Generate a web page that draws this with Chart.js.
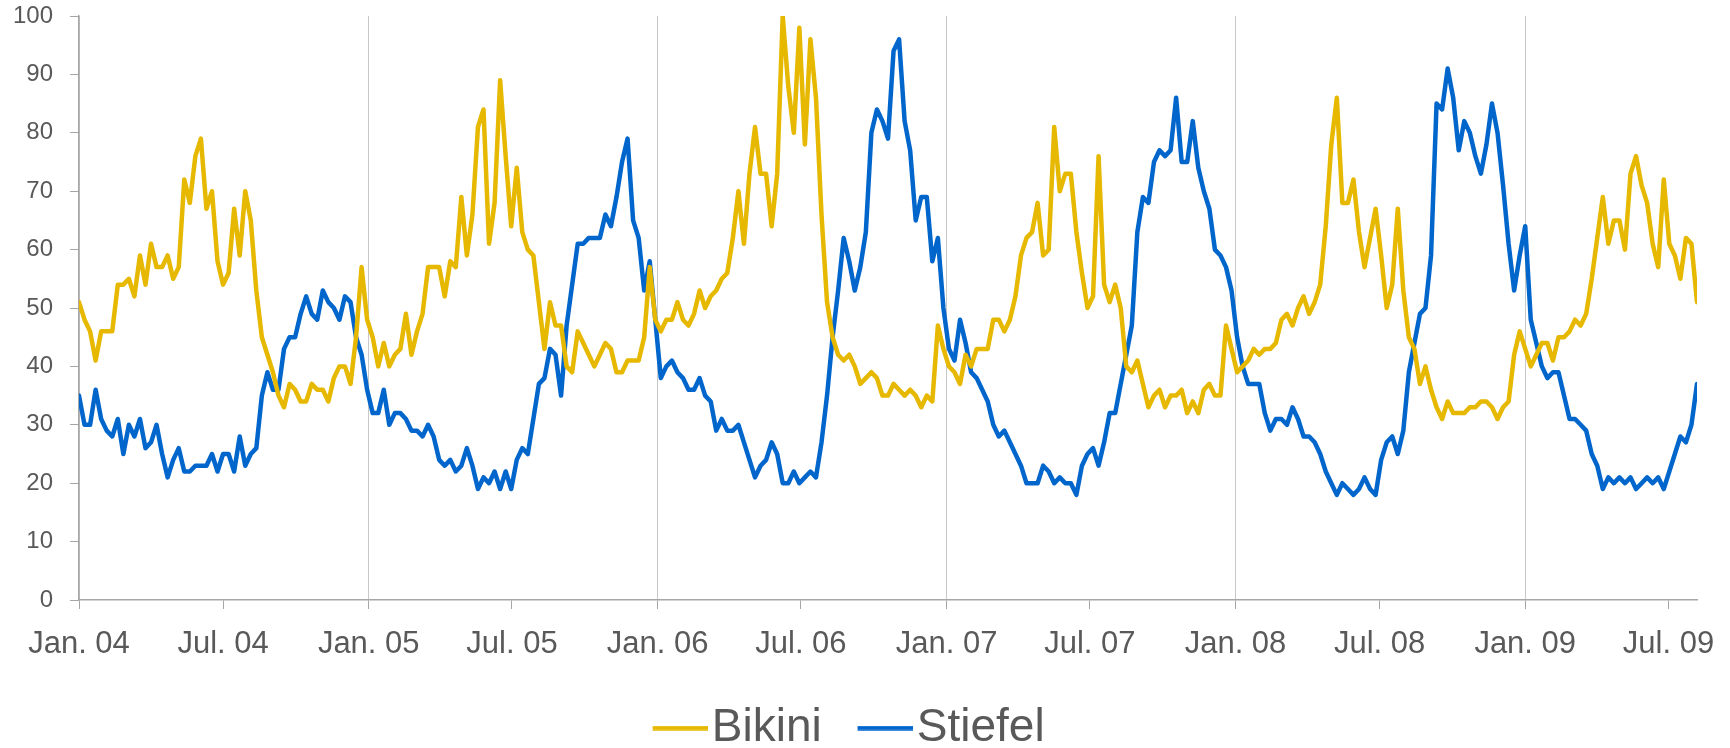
<!DOCTYPE html>
<html lang="de">
<head>
  <meta charset="UTF-8">
  <title>Bikini vs. Stiefel</title>
  <script src="https://cdn.jsdelivr.net/npm/chart.js"></script>
  <style>
    body { margin: 0; background: #fff; }
    #wrap { width: 1730px; height: 748px; }
  </style>
</head>
<body>
  <div id="wrap"><canvas id="trendChart"></canvas></div>

  <script>
    // weekly search interest, first week = Jan 2004
    const bikini = [
      51, 48, 46, 41, 46, 46, 46, 54, 54, 55,
      52, 59, 54, 61, 57, 57, 59, 55, 57, 72,
      68, 76, 79, 67, 70, 58, 54, 56, 67, 59,
      70, 65, 53, 45, 42, 39, 35, 33, 37, 36,
      34, 34, 37, 36, 36, 34, 38, 40, 40, 37,
      45, 57, 48, 45, 40, 44, 40, 42, 43, 49,
      42, 46, 49, 57, 57, 57, 52, 58, 57, 69,
      59, 66, 81, 84, 61, 68, 89, 76, 64, 74,
      63, 60, 59, 51, 43, 51, 47, 47, 40, 39,
      46, 44, 42, 40, 42, 44, 43, 39, 39, 41,
      41, 41, 45, 57, 48, 46, 48, 48, 51, 48,
      47, 49, 53, 50, 52, 53, 55, 56, 62, 70,
      61, 73, 81, 73, 73, 64, 73, 100, 88, 80,
      98, 78, 96, 86, 66, 51, 45, 42, 41, 42,
      40, 37, 38, 39, 38, 35, 35, 37, 36, 35,
      36, 35, 33, 35, 34, 47, 43, 40, 39, 37,
      42, 40, 43, 43, 43, 48, 48, 46, 48, 52,
      59, 62, 63, 68, 59, 60, 81, 70, 73, 73,
      63, 56, 50, 52, 76, 54, 51, 54, 50, 40,
      39, 41, 37, 33, 35, 36, 33, 35, 35, 36,
      32, 34, 32, 36, 37, 35, 35, 47, 43, 39,
      40, 41, 43, 42, 43, 43, 44, 48, 49, 47,
      50, 52, 49, 51, 54, 64, 78, 86, 68, 68,
      72, 63, 57, 62, 67, 59, 50, 54, 67, 53,
      45, 43, 37, 40, 36, 33, 31, 34, 32, 32,
      32, 33, 33, 34, 34, 33, 31, 33, 34, 42,
      46, 43, 40, 42, 44, 44, 41, 45, 45, 46,
      48, 47, 49, 55, 62, 69, 61, 65, 65, 60,
      73, 76, 71, 68, 61, 57, 72, 61, 59, 55,
      62, 61, 51
    ];
    const stiefel = [
      35, 30, 30, 36, 31, 29, 28, 31, 25, 30,
      28, 31, 26, 27, 30, 25, 21, 24, 26, 22,
      22, 23, 23, 23, 25, 22, 25, 25, 22, 28,
      23, 25, 26, 35, 39, 36, 36, 43, 45, 45,
      49, 52, 49, 48, 53, 51, 50, 48, 52, 51,
      45, 42, 36, 32, 32, 36, 30, 32, 32, 31,
      29, 29, 28, 30, 28, 24, 23, 24, 22, 23,
      26, 23, 19, 21, 20, 22, 19, 22, 19, 24,
      26, 25, 31, 37, 38, 43, 42, 35, 47, 54,
      61, 61, 62, 62, 62, 66, 64, 69, 75, 79,
      65, 62, 53, 58, 48, 38, 40, 41, 39, 38,
      36, 36, 38, 35, 34, 29, 31, 29, 29, 30,
      27, 24, 21, 23, 24, 27, 25, 20, 20, 22,
      20, 21, 22, 21, 27, 35, 45, 53, 62, 58,
      53, 57, 63, 80, 84, 82, 79, 94, 96, 82,
      77, 65, 69, 69, 58, 62, 50, 43, 41, 48,
      44, 39, 38, 36, 34, 30, 28, 29, 27, 25,
      23, 20, 20, 20, 23, 22, 20, 21, 20, 20,
      18, 23, 25, 26, 23, 27, 32, 32, 37, 42,
      47, 63, 69, 68, 75, 77, 76, 77, 86, 75,
      75, 82, 74, 70, 67, 60, 59, 57, 53, 45,
      40, 37, 37, 37, 32, 29, 31, 31, 30, 33,
      31, 28, 28, 27, 25, 22, 20, 18, 20, 19,
      18, 19, 21, 19, 18, 24, 27, 28, 25, 29,
      39, 44, 49, 50, 59, 85, 84, 91, 86, 77,
      82, 80, 76, 73, 78, 85, 80, 71, 61, 53,
      59, 64, 48, 44, 40, 38, 39, 39, 35, 31,
      31, 30, 29, 25, 23, 19, 21, 20, 21, 20,
      21, 19, 20, 21, 20, 21, 19, 22, 25, 28,
      27, 30, 37
    ];

    const tickLabels = ['Jan. 04', 'Jul. 04', 'Jan. 05', 'Jul. 05', 'Jan. 06', 'Jul. 06',
                        'Jan. 07', 'Jul. 07', 'Jan. 08', 'Jul. 08', 'Jan. 09', 'Jul. 09'];
    const tickDates = ['2004-01-01', '2004-07-01', '2005-01-01', '2005-07-01', '2006-01-01', '2006-07-01',
                       '2007-01-01', '2007-07-01', '2008-01-01', '2008-07-01', '2009-01-01', '2009-07-01'];

    // x axis runs in weeks since the start of 2004
    const start = Date.parse('2004-01-01');
    const tickWeeks = tickDates.map(d => (Date.parse(d) - start) / (7 * 864e5));

    const textColor = '#595959';
    const axisColor = '#a6a6a6';
    const gridColor = '#c8c8c8';
    const font = 'Liberation Sans, Arial, sans-serif';

    // legend marker: a short line that sits close to its label
    function legendLine(color) {
      const c = document.createElement('canvas');
      c.width = 74;
      c.height = 5;
      const g = c.getContext('2d');
      g.fillStyle = color;
      g.fillRect(19, 0.25, 55, 4.5);
      return c;
    }

    // pull the legend down closer to the bottom edge
    const legendFit = {
      id: 'legendFit',
      beforeInit(chart) {
        const fit = chart.legend.fit;
        chart.legend.fit = function () {
          fit.call(this);
          this.height -= 13;
        };
      }
    };

    function series(label, values, color) {
      return {
        label: label,
        data: values.map((v, i) => ({ x: i, y: v })),
        borderColor: color,
        backgroundColor: color,
        borderWidth: 4.5,
        borderJoinStyle: 'round',
        borderCapStyle: 'round',
        pointRadius: 0,
        pointHoverRadius: 0,
        pointStyle: legendLine(color),
        tension: 0
      };
    }

    new Chart(document.getElementById('trendChart'), {
      type: 'line',
      data: {
        datasets: [
          series('Bikini', bikini, '#e6b800'),
          series('Stiefel', stiefel, '#0066cc')
        ]
      },
      options: {
        responsive: true,
        maintainAspectRatio: false,
        animation: false,
        layout: { padding: { top: 16, right: 33, bottom: 0, left: 0 } },
        plugins: {
          tooltip: { enabled: false },
          legend: {
            position: 'bottom',
            labels: {
              usePointStyle: true,
              pointStyleWidth: 36.5,
              padding: 35.5,
              color: textColor,
              font: { family: font, size: 46 }
            }
          }
        },
        scales: {
          x: {
            type: 'linear',
            min: 0,
            max: bikini.length - 1,
            afterBuildTicks: scale => { scale.ticks = tickWeeks.map(v => ({ value: v })); },
            afterFit: scale => {
              scale.height = 69.5;
              scale.paddingLeft = 0;
              scale.paddingRight = 0;
            },
            ticks: {
              autoSkip: false,
              maxRotation: 0,
              padding: 17,
              color: textColor,
              font: { family: font, size: 31 },
              callback: (value, index) => tickLabels[index]
            },
            grid: {
              color: ctx => (tickLabels[ctx.index] || '').startsWith('Jan') ? gridColor : 'rgba(0,0,0,0)',
              tickColor: axisColor,
              tickLength: 9,
              lineWidth: 1
            },
            border: { color: axisColor, width: 1.5 }
          },
          y: {
            min: 0,
            max: 100,
            afterFit: scale => {
              scale.width = 79;
              scale.paddingTop = 0;
              scale.paddingBottom = 0;
            },
            ticks: {
              stepSize: 10,
              padding: 17,
              color: textColor,
              font: { family: font, size: 24 }
            },
            grid: {
              drawOnChartArea: false,
              tickColor: axisColor,
              tickLength: 9
            },
            border: { color: axisColor, width: 1.5 }
          }
        }
      },
      plugins: [legendFit]
    });
  </script>
</body>
</html>
